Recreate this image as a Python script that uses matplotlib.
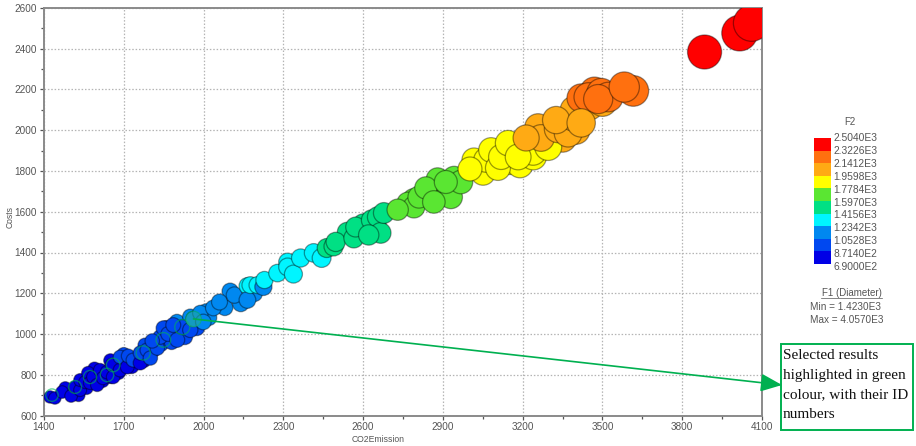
import matplotlib
matplotlib.use("Agg")
import matplotlib.pyplot as plt
from matplotlib.colors import ListedColormap, BoundaryNorm
from matplotlib.patches import Rectangle

# values
# points mostly hidden behind the others
under_co2 = [1480, 1530, 1560, 1590, 1620, 1650, 1650, 1680, 1700, 1730, 1750, 1775, 1780, 1810, 1840,
             1860, 1880, 1900, 1930, 1950, 1975, 2010, 2020, 2080, 2100, 2140, 2190,
             2540, 2600, 2650, 2790, 2850, 2880, 2880, 3150, 3190, 3200, 3240, 3280, 3310, 3350, 3400,
             3450, 3470, 3500, 3510]
under_costs = [735, 700, 735, 830, 770, 790, 870, 810, 900, 840, 880, 870, 945, 920, 950,
               1030, 960, 1060, 985, 1085, 1030, 1110, 1080, 1130, 1210, 1150, 1200,
               1500, 1540, 1520, 1660, 1690, 1680, 1760, 1845, 1830, 1900, 1870, 1950, 1985, 1960, 2000,
               2120, 2190, 2140, 2170]

co2 = [1423, 1441, 1468, 1502, 1517, 1536, 1536, 1555, 1566, 1573, 1585, 1600, 1611, 1622, 1637,
       1656, 1660, 1686, 1686, 1713, 1717, 1735, 1762, 1762, 1788, 1800, 1826, 1837, 1849,
       1867, 1901, 1920, 1950, 1962, 1988, 1999, 2037, 2060, 2116, 2165, 2165, 2176, 2203,
       2225, 2229, 2278, 2316, 2316, 2338, 2365, 2414, 2444, 2463, 2489, 2497, 2565, 2572,
       2632, 2655, 2666, 2678, 2768, 2791, 2810, 2836, 2930, 2942, 2968,
       3017, 3051, 3062, 3081, 3107, 3119, 3145, 3239, 3296, 3258, 3269, 3333,
       3371, 3390, 3394, 3420, 3447, 3496, 3522, 3616]
costs = [691, 686, 715, 696, 740, 725, 774, 764, 809, 760, 789, 750, 823, 784, 813,
         848, 789, 823, 887, 838, 892, 872, 858, 907, 921, 882, 931, 985, 1029,
         1000, 971, 1034, 1020, 1074, 1103, 1059, 1128, 1157, 1191, 1236, 1167, 1240, 1240,
         1231, 1265, 1299, 1353, 1329, 1294, 1373, 1398, 1373, 1422, 1430, 1452, 1471, 1525,
         1559, 1574, 1496, 1594, 1643, 1623, 1672, 1717, 1672, 1766, 1746,
         1854, 1790, 1854, 1903, 1815, 1869, 1937, 1893, 1918, 2016, 1962, 2006,
         1986, 2065, 2099, 2158, 2163, 2183, 2163, 2193]

# circles seen whole, on top of their neighbours
top_co2 = [1807, 1886, 2621, 2730, 2866, 2911, 3002, 3183, 3213, 3326, 3420, 3484, 3582, 3884, 4016, 4061]
top_costs = [966, 1044, 1486, 1610, 1648, 1746, 1810, 1869, 1962, 2050, 2036, 2153, 2212, 2384, 2477, 2526]

# results with a green ring
sel_co2 = [1430, 1517, 1573, 1637, 1660, 1773, 1849, 1920, 1962]
sel_costs = [700, 740, 789, 799, 848, 907, 971, 1034, 1074]

f2_levels = [690, 871.4, 1052.8, 1234.2, 1415.6, 1597, 1778.4, 1959.8, 2141.2, 2322.6, 2504]
f2_labels = ["6.9000E2", "8.7140E2", "1.0528E3", "1.2342E3", "1.4156E3", "1.5970E3",
             "1.7784E3", "1.9598E3", "2.1412E3", "2.3226E3", "2.5040E3"]
f2_colors = ["#0000e6", "#0048f0", "#0088f0", "#00f5ff", "#00e084",
             "#5ae632", "#ffff00", "#ffaa14", "#ff700f", "#ff0000"]

grey = "#555555"
W, H = 916, 446


def diam(x):
    # bubble area from the F1 diameter
    t = (x - 1423) / (4057 - 1423)
    r = 6.2 + 6 * t + 6 * t * t
    return (2 * r * 0.72) ** 2


cmap = ListedColormap(f2_colors)
norm = BoundaryNorm(f2_levels, cmap.N, clip=True)

plt.rcParams["font.family"] = "Liberation Sans"
fig = plt.figure(figsize=(W / 100, H / 100), dpi=100)
ax = fig.add_axes([44 / W, 1 - 415.5 / H, 718 / W, 407.5 / H])

edge = (0, 0, 0, 0.4)
for xs, ys in [(under_co2, under_costs), (co2, costs), (top_co2, top_costs)]:
    ax.scatter(xs, ys, s=[diam(v) for v in xs], c=ys, cmap=cmap, norm=norm,
               edgecolors=edge, linewidths=0.9, zorder=3)
ax.scatter(sel_co2, sel_costs, s=[diam(v) for v in sel_co2], facecolors="none",
           edgecolors=(0, 0.7, 0.35, 0.6), linewidths=1.0, zorder=4)
ax.scatter(sel_co2[-1:], sel_costs[-1:], s=diam(sel_co2[-1]), color="#20a8a0", alpha=0.6,
           linewidths=0, zorder=4)

ax.set_xlim(1400, 4100)
ax.set_ylim(600, 2600)
ax.set_xticks(range(1400, 4101, 300))
ax.set_xticks(range(1550, 4100, 300), minor=True)
ax.set_yticks(range(600, 2601, 200))
ax.set_yticks(range(700, 2600, 200), minor=True)
ax.tick_params(axis="both", which="major", labelsize=7.2, colors=grey, length=3, width=0.9, pad=2)
ax.tick_params(axis="both", which="minor", colors=grey, length=2, width=0.9)
ax.grid(True, which="major", color="#b4b4b4", linestyle=(0, (1.2, 1.5)), linewidth=0.9, zorder=0)
ax.set_axisbelow(True)
for s in ax.spines.values():
    s.set_color("#8a8a8a")
    s.set_linewidth(1.4)
ax.set_xlabel("CO2Emission", fontsize=6.2, color=grey)
ax.xaxis.set_label_coords((378 - 44) / 718, -(439 - 415.5) / 407.5)
ax.xaxis.label.set_va("center")
ax.set_ylabel("Costs", fontsize=6.2, color=grey)
ax.yaxis.set_label_coords(-(44 - 10) / 718, (415.5 - 217) / 407.5)
ax.yaxis.label.set_va("center")

# F2 legend
cax = fig.add_axes([814 / W, 1 - 264 / H, 17 / W, 126 / H])
for i, c in enumerate(f2_colors):
    cax.bar(0, 1, bottom=i, width=1, color=c)
cax.set_xlim(-0.5, 0.5)
cax.set_ylim(0, len(f2_colors))
cax.axis("off")
fig.text(850 / W, 1 - 122 / H, "F2", fontsize=7, color=grey, ha="center", va="center")
for i, lab in enumerate(f2_labels):
    fig.text(833 / W, 1 - (267 - i * 12.9) / H, lab, fontsize=7.4, color=grey, va="center")
fig.text(852 / W, 1 - 293 / H, "F1 (Diameter)", fontsize=7, color=grey, ha="center", va="center")
fig.add_artist(plt.Line2D([821 / W, 882 / W], [1 - 297.5 / H, 1 - 297.5 / H], color=grey, lw=0.5))
fig.text(810 / W, 1 - 307 / H, "Min = 1.4230E3", fontsize=7.2, color=grey, va="center")
fig.text(810 / W, 1 - 320 / H, "Max = 4.0570E3", fontsize=7.2, color=grey, va="center")

# callout
green = "#00b050"
fig.add_artist(Rectangle((781 / W, 1 - 430 / H), 132 / W, 86 / H, transform=fig.transFigure,
                         facecolor="white", edgecolor=green, linewidth=1.4))
fig.text(783 / W, 1 - 385 / H, "Selected results\nhighlighted in green\ncolour, with their ID\nnumbers",
         fontsize=11, family="Liberation Serif", color="#111111", va="center", linespacing=1.68)
ax.annotate("", xy=(782 / W, 1 - 385 / H), xycoords="figure fraction",
            xytext=(1962, 1074), textcoords="data", annotation_clip=False,
            arrowprops=dict(arrowstyle="-|>,head_length=1.3,head_width=0.55", color=green, lw=1.2,
                            shrinkA=0, shrinkB=0), zorder=6)

fig.savefig("out.png", dpi=100)
